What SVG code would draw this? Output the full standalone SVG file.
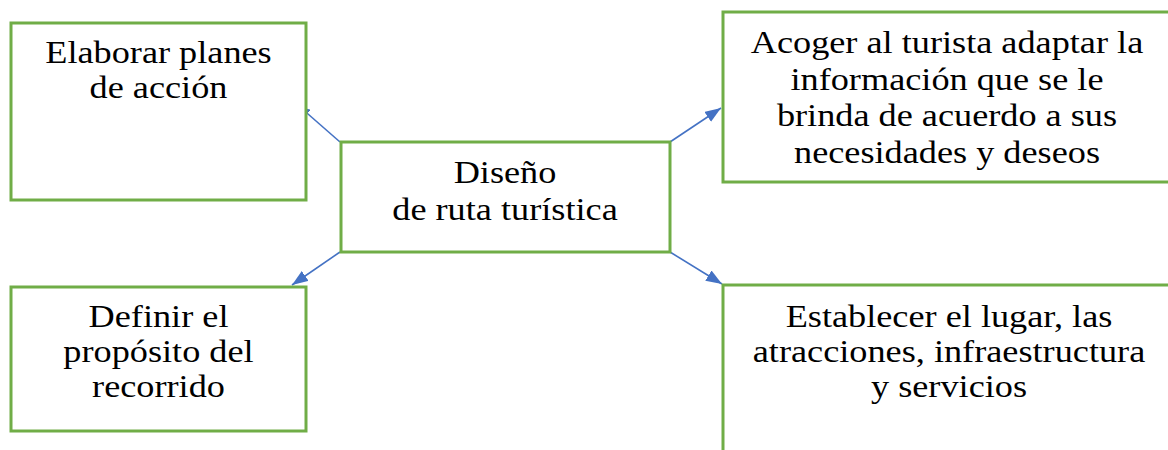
<svg xmlns="http://www.w3.org/2000/svg" width="1168" height="450" viewBox="0 0 1168 450">
<style>
.box{fill:#fff;stroke:#70AD47;stroke-width:3}
.t{font-family:"Liberation Serif","Times New Roman",serif;font-size:31px;fill:#000;text-anchor:middle}
.c{stroke:#4472C4;stroke-width:1.6;fill:none}
</style>
<defs>
<marker id="ah" viewBox="0 0 10 10" refX="10" refY="5" markerWidth="10" markerHeight="10" markerUnits="userSpaceOnUse" orient="auto">
<path d="M0,0 L10,5 L0,10 z" fill="#4472C4"/>
</marker>
<marker id="ah2" viewBox="0 0 16 12" refX="16" refY="6" markerWidth="16" markerHeight="12" markerUnits="userSpaceOnUse" orient="auto">
<path d="M0,0 L16,6 L0,12 z" fill="#4472C4"/>
</marker>
</defs>
<rect width="1168" height="450" fill="#fff"/>
<g id="connectors">
<line class="c" x1="340" y1="142" x2="300" y2="107" marker-end="url(#ah)"/>
<line class="c" x1="670" y1="142" x2="721" y2="108" marker-end="url(#ah2)"/>
<line class="c" x1="340" y1="252" x2="292" y2="285" marker-end="url(#ah2)"/>
<line class="c" x1="670" y1="252" x2="722" y2="284" marker-end="url(#ah2)"/>
</g>
<g id="n1">
<rect class="box" x="11" y="23" width="295" height="177"/>
<g transform="translate(158.5,0) scale(1.17,1)">
<text class="t" x="0" y="63">Elaborar planes</text>
<text class="t" x="0" y="98">de acción</text>
</g>
</g>
<g id="n2">
<rect class="box" x="723" y="12" width="460" height="170"/>
<g transform="translate(947,0) scale(1.17,1)">
<text class="t" x="0" y="53">Acoger al turista adaptar la</text>
<text class="t" x="0" y="90">información que se le</text>
<text class="t" x="0" y="126">brinda de acuerdo a sus</text>
<text class="t" x="0" y="163">necesidades y deseos</text>
</g>
</g>
<g id="n0">
<rect class="box" x="341" y="142" width="329" height="110"/>
<g transform="translate(505,0) scale(1.17,1)">
<text class="t" x="0" y="183">Diseño</text>
<text class="t" x="0" y="220">de ruta turística</text>
</g>
</g>
<g id="n3">
<rect class="box" x="11" y="287" width="295" height="144"/>
<g transform="translate(158.5,0) scale(1.17,1)">
<text class="t" x="0" y="327">Definir el</text>
<text class="t" x="0" y="362">propósito del</text>
<text class="t" x="0" y="397">recorrido</text>
</g>
</g>
<g id="n4">
<rect class="box" x="723" y="285" width="460" height="200"/>
<g transform="translate(949,0) scale(1.17,1)">
<text class="t" x="0" y="327">Establecer el lugar, las</text>
<text class="t" x="0" y="362">atracciones, infraestructura</text>
<text class="t" x="0" y="397">y servicios</text>
</g>
</g>
</svg>
